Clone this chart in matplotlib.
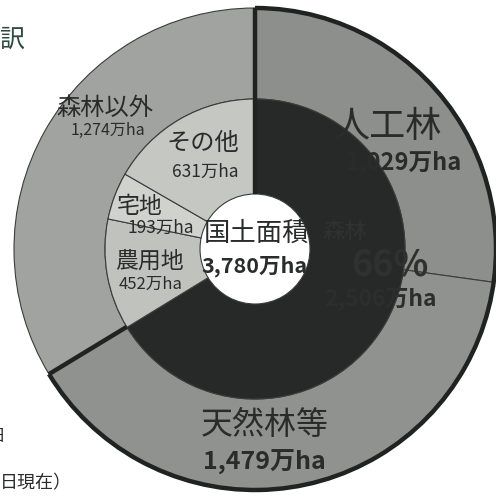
import matplotlib.pyplot as plt
from matplotlib.patches import Arc
import numpy as np

plt.rcParams['font.family'] = ['Noto Sans CJK JP', 'DejaVu Sans']

# 外側: 森林の内訳と森林以外
outer_labels = ['人工林', '天然林等', '森林以外']
outer_values = [1029, 1479, 1274]
outer_colors = ['#8d8f8d', '#909290', '#a0a39f']

# 内側: 森林と森林以外の内訳
inner_labels = ['森林', '農用地', '宅地', 'その他']
inner_values = [2506, 452, 193, 631]
inner_colors = ['#262928', '#c0c2be', '#d0d2ce', '#c5c7c3']

total_label = '国土面積'
total_value = '3,780万ha'
forest_share = '66%'

W, H = 496, 499
cx, cy = 255, 250
r_out, r_mid, r_hole = 241, 150, 55

fig = plt.figure(figsize=(W / 100, H / 100), dpi=100)
ax = fig.add_axes([0, 0, 1, 1])

wo, _ = ax.pie(outer_values, colors=outer_colors, startangle=90, counterclock=False,
               radius=r_out, center=(cx, cy),
               wedgeprops=dict(width=r_out - r_mid, edgecolor='#3a3d3b', linewidth=0.8))
wi, _ = ax.pie(inner_values, colors=inner_colors, startangle=90, counterclock=False,
               radius=r_mid, center=(cx, cy),
               wedgeprops=dict(width=r_mid - r_hole, edgecolor='#3a3d3b', linewidth=0.8))

# 森林部分の太い枠線
t_start = wo[1].theta1
t_end = wo[0].theta2
ax.add_patch(Arc((cx, cy), 2 * r_out, 2 * r_out, theta1=t_start, theta2=t_end,
                 color='#1f2321', lw=3.2, zorder=5))
for t, r0 in [(t_end, r_hole), (t_start, r_mid)]:
    a = np.deg2rad(t)
    ax.plot([cx + r0 * np.cos(a), cx + r_out * np.cos(a)],
            [cy + r0 * np.sin(a), cy + r_out * np.sin(a)],
            color='#1f2321', lw=3.2, solid_capstyle='butt', zorder=5)

ax.set_xlim(0, W)
ax.set_ylim(0, H)
ax.set_aspect('equal')
ax.axis('off')

tc = '#2a2c2b'
def lab(x, y, s, size, bold=False, color=tc):
    ax.text(x, y, s, fontsize=size, ha='center', va='center', color=color,
            fontweight='bold' if bold else 'normal', zorder=6)

lab(105, 391, '森林以外', 17.5)
lab(108, 369, '1,274万ha', 11.5)
lab(203, 356, 'その他', 17.5)
lab(205, 327, '631万ha', 12.5)
lab(140, 293, '宅地', 16.5)
lab(161, 271, '193万ha', 12.5)
lab(149, 238, '農用地', 16.5)
lab(151, 215, '452万ha', 12)

lab(256, 266, total_label, 19)
lab(254, 233, total_value, 15.5, bold=True)

lab(388, 372, outer_labels[0], 26)
lab(403, 336, '1,029万ha', 17, bold=True)
lab(345, 268, inner_labels[0], 16, color='#2f3231')
lab(390, 234, forest_share, 26, bold=True, color='#2e3130')
lab(380, 200, '2,506万ha', 16.5, bold=True, color='#2b2e2d')
lab(265, 74, outer_labels[1], 23)
lab(264, 37, '1,479万ha', 18, bold=True)

# 切れた周辺テキスト
fig.text(26 / W, 1 - 40 / H, '内訳', fontsize=18, ha='right', va='center', color='#2f4a40')
fig.text(5 / W, 1 - 437 / H, '日', fontsize=12, ha='right', va='center', color=tc)
fig.text(0, 1 - 483 / H, '日現在）', fontsize=13, ha='left', va='center', color=tc)

fig.savefig('out.png', dpi=100, facecolor='white')
